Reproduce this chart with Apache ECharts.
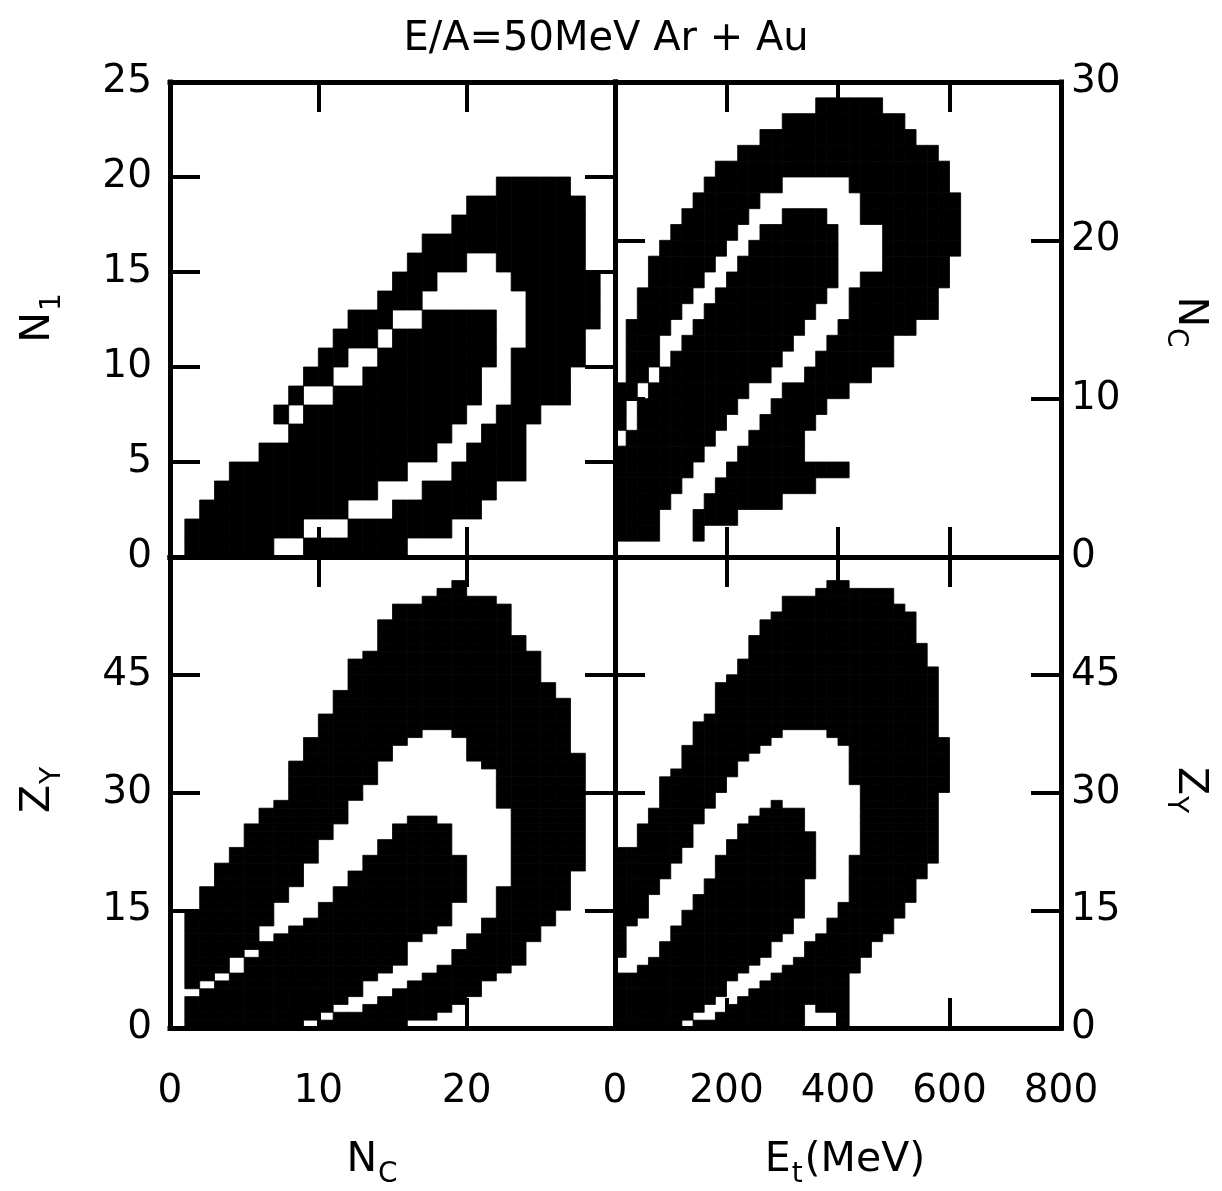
<!DOCTYPE html>
<html>
<head>
<meta charset="utf-8">
<script src="https://cdn.jsdelivr.net/npm/echarts@6/dist/echarts.min.js"></script>
<style>
  html, body { margin: 0; padding: 0; background: #fff; }
  #chart { width: 1222px; height: 1191px; }
</style>
</head>
<body>
<div id="chart"></div>
<script>
// Contour-level maps of the E/A = 50 MeV Ar + Au events.
// Levels: outer = lowest contour (black), gap = middle band (white), core = highest contour (black).
// Top panels are listed per row:     [row, firstColumn, lastColumn]
// Bottom panels are listed per column: [column, firstRow, lastRow]

// ---- N_c (1 per bin) vs N_1 (1 per bin) ----
const nc_n1_outer = [
  [19,22,26],[18,20,27],[17,19,27],[16,17,27],[15,16,27],[14,15,28],[13,14,28],[12,12,28],
  [11,11,27],[10,10,27],[9,9,26],[8,8,26],[7,7,24],[6,8,23],[5,6,23],[4,4,23],[3,3,21],
  [2,2,20],[1,1,18],[0,1,15]
];
const nc_n1_gap = [
  [15,20,21],[14,18,22],[13,17,23],[12,15,23],[11,14,23],[10,12,22],[9,11,22],[8,9,22],
  [7,8,21],[6,8,20],[5,6,19],[4,4,18],[3,3,16],[2,2,14],[1,1,11],[0,1,8]
];
const nc_n1_core = [
  [12,17,21],[11,15,21],[10,14,21],[9,13,20],[8,11,20],[7,9,19],[6,8,18],[5,6,17],
  [4,4,15],[3,3,13],[2,2,11],[1,1,8],[0,1,6]
];

// ---- E_t (20 MeV per bin) vs N_c (1 per bin) ----
const et_nc_outer = [
  [28,18,23],[27,15,25],[26,13,26],[25,11,28],[24,9,29],[23,8,29],[22,7,30],[21,6,30],
  [20,5,30],[19,4,30],[18,3,29],[17,3,29],[16,2,28],[15,2,28],[14,1,26],[13,1,24],
  [12,1,24],[11,1,22],[10,0,20],[9,0,18],[8,0,17],[7,0,16],[6,0,16],[5,0,20],[4,0,17],
  [3,0,14],[2,0,10],[1,0,7]
];
const et_nc_gap = [
  [23,15,20],[22,13,21],[21,12,21],[20,11,23],[19,10,23],[18,9,23],[17,8,21],[16,7,20],
  [15,6,20],[14,5,19],[13,4,18],[12,4,17],[11,3,16],[10,2,14],[9,1,13],[8,1,12],
  [7,0,11],[6,0,10],[5,0,9],[4,0,8],[3,0,7],[2,0,6],[1,0,6]
];
const et_nc_core = [
  [21,15,18],[20,13,19],[19,12,19],[18,11,19],[17,10,19],[16,9,18],[15,8,17],[14,7,16],
  [13,6,15],[12,5,14],[11,4,13],[10,3,11],[9,2,10],[8,2,9],[7,1,8],[6,0,7],[5,0,6],
  [4,0,5],[3,0,4],[2,0,3],[1,0,3]
];

// ---- N_c (1 per bin) vs Z_Y (1 per bin) ----
const nc_zy_outer = [
  [1,0,14],[2,0,17],[3,0,20],[4,0,22],[5,0,25],[6,0,27],[7,0,28],[8,0,33],[9,0,36],
  [10,0,39],[11,0,42],[12,0,46],[13,0,47],[14,0,51],[15,0,53],[16,1,53],[17,1,54],
  [18,2,55],[19,3,56],[20,4,54],[21,6,54],[22,7,53],[23,8,49],[24,11,47],[25,13,43],
  [26,15,41],[27,20,34]
];
const nc_zy_gap = [
  [1,0,4],[2,0,5],[3,0,6],[4,0,8],[5,0,9],[6,0,12],[7,0,15],[8,0,17],[9,0,20],
  [10,1,23],[11,2,25],[12,2,28],[13,3,30],[14,4,33],[15,5,35],[16,6,36],[17,7,37],
  [18,8,37],[19,10,36],[20,12,33],[21,14,32],[22,18,27]
];
const nc_zy_core = [
  [1,0,3],[2,0,4],[3,0,5],[4,0,6],[5,0,8],[6,0,10],[7,0,11],[8,0,12],[9,1,13],
  [10,2,15],[11,3,17],[12,4,19],[13,6,21],[14,7,23],[15,8,25],[16,11,26],[17,12,26],
  [18,13,25],[19,16,21]
];

// ---- E_t (20 MeV per bin) vs Z_Y (1 per bin) ----
const et_zy_outer = [
  [0,0,22],[1,0,22],[2,0,25],[3,0,27],[4,0,31],[5,0,32],[6,0,35],[7,0,38],[8,0,39],
  [9,0,43],[10,0,44],[11,0,46],[12,0,49],[13,0,51],[14,0,52],[15,0,54],[16,0,54],
  [17,3,54],[18,2,55],[19,2,56],[20,0,56],[21,7,55],[22,9,55],[23,11,55],[24,12,55],
  [25,14,53],[26,16,52],[27,19,48],[28,21,45],[29,30,36]
];
const et_zy_gap = [
  [0,0,8],[1,0,12],[2,0,13],[3,0,16],[4,0,18],[5,0,20],[6,0,22],[7,1,25],[8,1,27],
  [9,2,29],[10,3,31],[11,4,33],[12,5,34],[13,6,35],[14,7,36],[15,8,37],[16,9,37],
  [17,11,37],[18,12,37],[19,14,36],[20,16,35],[21,22,30]
];
const et_zy_core = [
  [0,0,6],[1,0,6],[2,0,7],[3,0,8],[4,0,10],[5,0,12],[6,1,14],[7,2,16],[8,3,18],
  [9,4,21],[10,6,23],[11,7,25],[12,8,26],[13,9,27],[14,11,28],[15,12,27],[16,14,27],
  [17,19,24]
];

// Bin widths in axis units
const ncBin = 1, n1Bin = 1, etBin = 20, zyBin = 1;

// Tick values of each axis
const ncTicks = [0, 10, 20, 30];
const n1Ticks = [0, 5, 10, 15, 20, 25];
const etTicks = [0, 200, 400, 600, 800];
const zyTicks = [0, 15, 30, 45, 60];

const titleText = 'E/A=50MeV Ar + Au';
const FONT = 'DejaVu Sans';

// Expand level runs into cells [x0, x1, y0, y1, level]
function levelCells(outer, gap, core, byRow, xBin, yBin) {
  const cells = new Map();
  [[outer, 1], [gap, 2], [core, 3]].forEach(([runs, lvl]) => {
    runs.forEach(([line, a, b]) => {
      for (let k = a; k <= b; k++) {
        const ix = byRow ? k : line;
        const iy = byRow ? line : k;
        cells.set(ix + ',' + iy, [ix, iy, lvl]);
      }
    });
  });
  const out = [];
  cells.forEach(([ix, iy, lvl]) => {
    out.push([ix * xBin, (ix + 1) * xBin, iy * yBin, (iy + 1) * yBin, lvl]);
  });
  // white middle band first, black levels on top
  out.sort((p, q) => (p[4] === 2 ? 0 : 1) - (q[4] === 2 ? 0 : 1));
  return out;
}

const panels = [
  { box: {left: 170, top: 82, width: 445, height: 475},
    cells: levelCells(nc_n1_outer, nc_n1_gap, nc_n1_core, true, ncBin, n1Bin),
    xTicks: ncTicks, yTicks: n1Ticks, xLabel: null, yLabel: 'left', hideXMax: false, hideYMax: false },
  { box: {left: 615, top: 82, width: 446, height: 475},
    cells: levelCells(et_nc_outer, et_nc_gap, et_nc_core, true, etBin, ncBin),
    xTicks: etTicks, yTicks: ncTicks, xLabel: null, yLabel: 'right', hideXMax: false, hideYMax: false },
  { box: {left: 170, top: 557, width: 445, height: 471},
    cells: levelCells(nc_zy_outer, nc_zy_gap, nc_zy_core, false, ncBin, zyBin),
    xTicks: ncTicks, yTicks: zyTicks, xLabel: 'bottom', yLabel: 'left', hideXMax: true, hideYMax: true },
  { box: {left: 615, top: 557, width: 446, height: 471},
    cells: levelCells(et_zy_outer, et_zy_gap, et_zy_core, false, etBin, zyBin),
    xTicks: etTicks, yTicks: zyTicks, xLabel: 'bottom', yLabel: 'right', hideXMax: false, hideYMax: true }
];

function axisPair(dim, gridIndex, ticks, labelSide, hideMax) {
  const sides = dim === 'x' ? ['bottom', 'top'] : ['left', 'right'];
  const last = ticks[ticks.length - 1];
  return sides.map(side => ({
    type: 'value', gridIndex, position: side,
    min: ticks[0], max: last, interval: ticks[1] - ticks[0],
    z: 5,
    splitLine: {show: false},
    axisLine: {show: true, onZero: false, lineStyle: {color: '#000', width: 5, cap: 'square'}},
    axisTick: {show: true, inside: true, length: 30, lineStyle: {color: '#000', width: 4}},
    axisLabel: {
      show: side === labelSide,
      showMinLabel: true, showMaxLabel: !hideMax,
      color: '#000', fontFamily: FONT, fontSize: 39,
      margin: dim === 'x' ? 44 : (side === 'left' ? 18 : 10),
      formatter: v => (hideMax && v === last) ? '' : String(v)
    }
  }));
}

function bandSeries(cells, g) {
  return {
    type: 'custom', xAxisIndex: 2 * g, yAxisIndex: 2 * g,
    data: cells, z: 1, silent: true, animation: false, clip: true,
    encode: {x: [0, 1], y: [2, 3]},
    renderItem(params, api) {
      const p0 = api.coord([api.value(0), api.value(3)]);
      const p1 = api.coord([api.value(1), api.value(2)]);
      const lvl = api.value(4);
      const ink = lvl === 2 ? '#ffffff' : '#000000';
      return {
        type: 'rect',
        shape: {x: p0[0], y: p0[1], width: p1[0] - p0[0], height: p1[1] - p0[1]},
        style: lvl === 2 ? {fill: ink} : {fill: ink, stroke: ink, lineWidth: 0.8}
      };
    }
  };
}

// Axis titles with subscripts
const meas = document.createElement('canvas').getContext('2d');
function textW(t, size) { meas.font = size + 'px "' + FONT + '"'; return meas.measureText(t).width; }
function axisTitle(cx, cy, rotDeg, main, sub, tail) {
  const big = 41, small = 28;
  const wMain = textW(main, big), wSub = textW(sub, small), wTail = tail ? textW(tail, big) : 0;
  const total = wMain + 1 + wSub + (tail ? 2 + wTail : 0);
  const x0 = -total / 2;
  const base = {fontFamily: FONT, fill: '#000', align: 'left', verticalAlign: 'middle'};
  const children = [
    {type: 'text', x: x0, y: 0, style: Object.assign({text: main, fontSize: big}, base)},
    {type: 'text', x: x0 + wMain + 1, y: 15, style: Object.assign({text: sub, fontSize: small}, base)}
  ];
  if (tail) {
    children.push({type: 'text', x: x0 + wMain + 3 + wSub, y: 0, style: Object.assign({text: tail, fontSize: big}, base)});
  }
  return {type: 'group', x: cx, y: cy, rotation: rotDeg * Math.PI / 180, silent: true, children};
}

const xAxis = [], yAxis = [], series = [];
panels.forEach((p, g) => {
  xAxis.push(...axisPair('x', g, p.xTicks, p.xLabel, p.hideXMax));
  yAxis.push(...axisPair('y', g, p.yTicks, p.yLabel, p.hideYMax));
  series.push(bandSeries(p.cells, g));
});

const chart = echarts.init(document.getElementById('chart'), null, {renderer: 'canvas'});
chart.setOption({
  backgroundColor: '#ffffff',
  animation: false,
  title: {
    text: titleText, left: 601, top: 15, textAlign: 'center',
    textStyle: {fontFamily: FONT, fontSize: 40, fontWeight: 'normal', color: '#000'}
  },
  grid: panels.map(p => Object.assign({containLabel: false}, p.box)),
  xAxis, yAxis, series,
  graphic: [
    axisTitle(372, 1160, 0, 'N', 'C'),
    axisTitle(845, 1160, 0, 'E', 't', '(MeV)'),
    axisTitle(38, 318, 90, 'N', '1'),
    axisTitle(38, 790, 90, 'Z', 'Y'),
    axisTitle(1190, 322, -90, 'N', 'C'),
    axisTitle(1190, 790, -90, 'Z', 'Y')
  ]
});
</script>
</body>
</html>
